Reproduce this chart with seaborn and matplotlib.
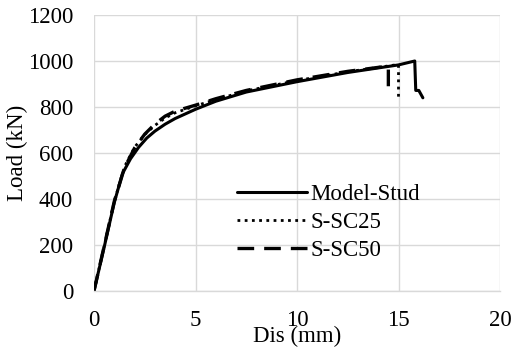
import matplotlib
matplotlib.use("Agg")
import matplotlib.pyplot as plt
import seaborn as sns
import pandas as pd

# Data
model_x = [0, 0.5, 1.0, 1.4, 1.8, 2.2, 2.6, 3.0, 3.5, 4.0, 5.0, 6.0, 7.5, 10.0, 12.5, 15.0, 15.8, 15.85, 16.0, 16.2]
model_y = [0, 190, 385, 510, 575, 625, 665, 695, 725, 750, 790, 825, 865, 910, 950, 983, 1000, 872, 872, 840]

sc25_x = [0, 0.5, 1.0, 1.5, 2.0, 2.5, 3.0, 3.5, 4.0, 5.0, 6.0, 7.5, 10.0, 12.5, 15.0, 15.0]
sc25_y = [0, 195, 390, 540, 625, 680, 720, 752, 775, 805, 832, 870, 915, 953, 985, 845]

sc50_x = [0, 0.5, 1.0, 1.5, 2.0, 2.5, 3.0, 3.5, 4.0, 5.0, 6.0, 7.5, 10.0, 12.5, 14.5, 14.5]
sc50_y = [0, 195, 390, 535, 622, 682, 726, 760, 782, 808, 836, 872, 918, 955, 978, 850]

labels = ["Model-Stud", "S-SC25", "S-SC50"]
x_ticks = [0, 5, 10, 15, 20]
y_ticks = [0, 200, 400, 600, 800, 1000, 1200]

sns.set_theme(style="whitegrid")
plt.rcParams["font.family"] = ["Liberation Serif", "DejaVu Serif"]

FS = 16.5
fig = plt.figure(figsize=(5.15, 3.48), dpi=100)
ax = fig.add_axes([94/515, 1-291/348, 406/515, 276/348])

series = [(model_x, model_y), (sc25_x, sc25_y), (sc50_x, sc50_y)]
styles = [dict(linestyle="-", linewidth=2.2),
          dict(linestyle=(0, (1, 1.6)), linewidth=2.0),
          dict(linestyle=(0, (5, 3)), linewidth=2.4)]
for (xs, ys), lab, st in zip(series, labels, styles):
    df = pd.DataFrame({"x": xs, "y": ys})
    sns.lineplot(data=df, x="x", y="y", ax=ax, sort=False, color="black",
                 label=lab, estimator=None, **st)

ax.set_xlim(0, 20)
ax.set_ylim(0, 1200)
ax.set_xticks(x_ticks)
ax.set_yticks(y_ticks)
ax.grid(True, color="#d9d9d9", linewidth=1)
for s in ["top", "right", "left"]:
    ax.spines[s].set_visible(False)
ax.spines["bottom"].set_visible(True)
ax.spines["bottom"].set_color("#d9d9d9")
ax.spines["bottom"].set_linewidth(1)
ax.tick_params(axis="both", labelsize=FS, colors="black", length=0)
ax.tick_params(axis="y", pad=15)
ax.tick_params(axis="x", pad=14)
ax.set_xlabel("Dis (mm)", fontsize=FS, color="black")
ax.set_ylabel("Load (kN)", fontsize=FS, color="black")
ax.xaxis.set_label_coords(0.5, -0.125)
ax.yaxis.set_label_coords(-0.163, 0.50)

leg = ax.legend(loc="upper left", bbox_to_anchor=(0.33, 0.42), frameon=False,
                fontsize=FS, handlelength=3.05, handletextpad=0.15,
                labelspacing=0.3, borderaxespad=0)
for t in leg.get_texts():
    t.set_color("black")

fig.savefig("out.png", dpi=100)
